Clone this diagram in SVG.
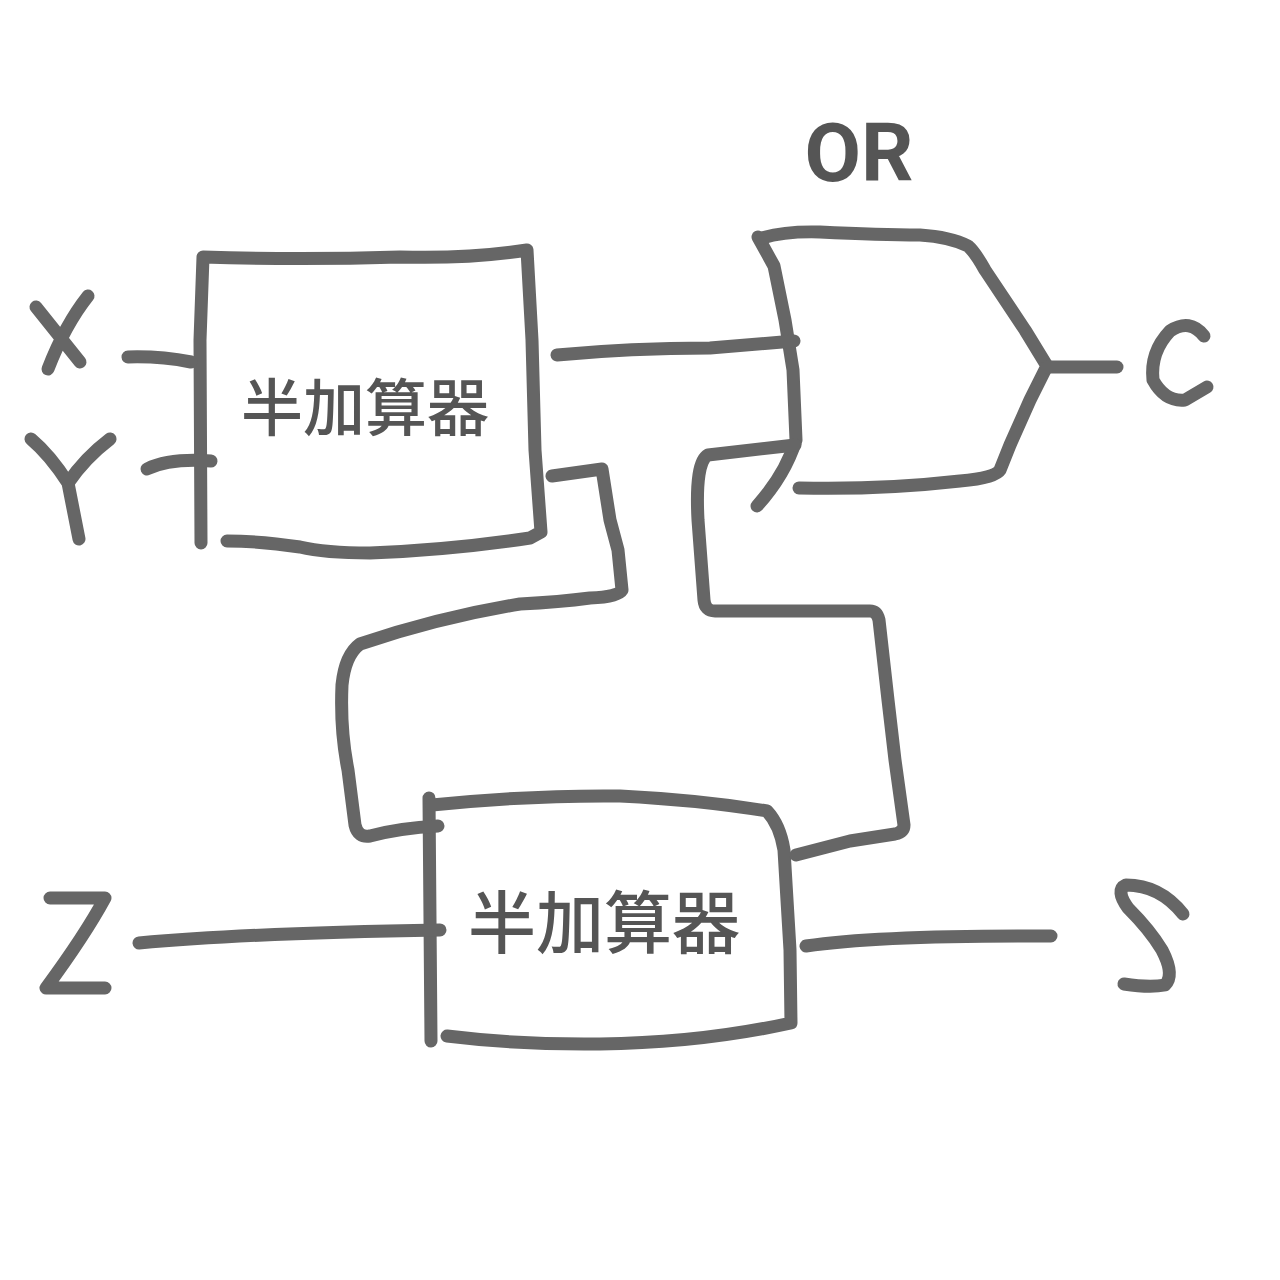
<svg xmlns="http://www.w3.org/2000/svg" width="1280" height="1280" viewBox="0 0 1280 1280">
<style>
.s{fill:none;stroke:#666;stroke-width:13;stroke-linecap:round;stroke-linejoin:round}
.t{font-family:"Noto Sans CJK JP","Noto Sans",sans-serif;fill:#555;font-weight:500}
.o{font-family:Roboto,sans-serif;fill:#555;font-weight:700}
</style>
<rect width="1280" height="1280" fill="#fff"/>
<g id="adder1">
<path class="s" d="M201 543L200 340L203 257Q300 260 400 257Q470 259 527 250L532 340L535 450L541 532L530 538Q450 550 370 553Q325 553 300 547Q260 541 227 541"/>
<text class="t" x="365" y="431" font-size="62" text-anchor="middle">半加算器</text>
</g>
<g id="adder2">
<path class="s" d="M431 1041L430 920L429 798"/>
<path class="s" d="M432 805Q530 795 620 796Q700 800 767 811Q780 825 784 850L790 950L791 1023Q700 1043 600 1044Q520 1045 447 1036"/>
<text class="t" x="604" y="948" font-size="68" text-anchor="middle">半加算器</text>
</g>
<g id="or-gate">
<path class="s" d="M758 237L774 266L785 320L793 370L796 440Q785 475 757 506"/>
<path class="s" d="M762 238Q785 231 820 232Q880 235 920 235Q950 237 968 246Q975 252 985 270L1025 330L1047 366L1030 400L1010 445L1000 470Q995 478 960 481Q880 490 799 488"/>
<text class="o" x="859" y="181" font-size="82" text-anchor="middle">OR</text>
</g>
<g id="connectors">
<path class="s" d="M128 357Q160 356 191 362"/>
<path class="s" d="M147 469Q170 458 211 461"/>
<path class="s" d="M557 355Q630 348 710 348L794 341"/>
<path class="s" d="M552 476L602 469L610 520L618 550L622 590Q618 597 590 598Q560 602 520 604Q440 617 360 644Q345 655 342 685Q340 730 348 770L355 825Q358 838 370 836Q400 828 438 826"/>
<path class="s" d="M795 445L708 455Q695 462 698 520L704 600Q705 611 715 611L870 611Q877 611 879 620L888 700L895 760L904 825Q904 832 895 834L850 841L796 855"/>
<path class="s" d="M1047 367L1117 367"/>
<path class="s" d="M139 943Q250 933 440 930"/>
<path class="s" d="M806 946Q880 935 1051 936"/>
</g>
<g id="labels">
<path class="s" d="M36 307L80 362M88 296Q65 325 48 369"/>
<path class="s" d="M31 439Q50 455 68 483Q85 458 110 439M68 483L79 539"/>
<path class="s" d="M50 898L105 898Q85 935 46 988L105 988"/>
<path class="s" d="M1204 336Q1190 318 1170 331Q1150 352 1153 380Q1165 402 1185 400L1207 387"/>
<path class="s" d="M1183 914Q1160 885 1126 885Q1115 890 1128 908Q1150 930 1162 950Q1175 975 1165 985Q1150 988 1124 984"/>
</g>
</svg>
